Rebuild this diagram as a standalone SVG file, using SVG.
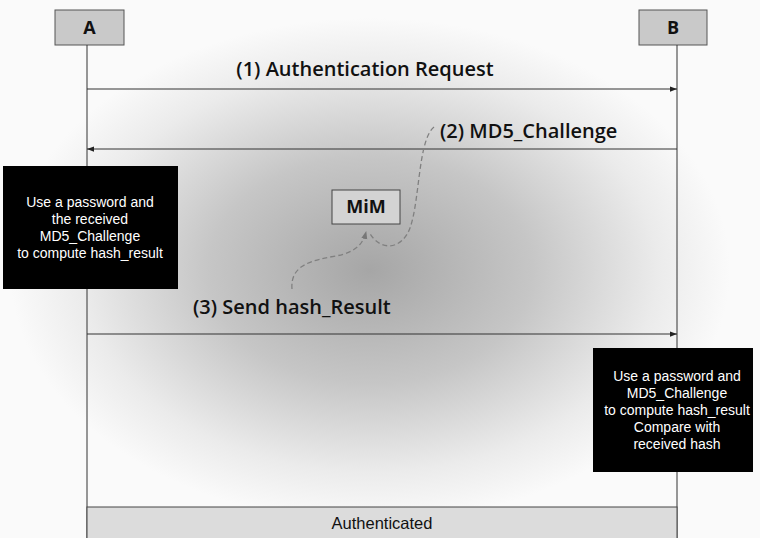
<svg xmlns="http://www.w3.org/2000/svg" width="760" height="538" viewBox="0 0 760 538">
<defs>
<radialGradient id="bg" cx="370" cy="270" r="360" gradientUnits="userSpaceOnUse" gradientTransform="translate(370 270) scale(1 0.7) translate(-370 -270)">
<stop offset="0" stop-color="#a6a6a6"/>
<stop offset="0.45" stop-color="#c6c6c6"/>
<stop offset="0.8" stop-color="#ebebeb"/>
<stop offset="1" stop-color="#fafafa"/>
</radialGradient>
<marker id="ah" viewBox="0 0 8 8" refX="8" refY="4" markerWidth="7" markerHeight="7" orient="auto" markerUnits="userSpaceOnUse">
<path d="M0,1 L8,4 L0,7 Z" fill="#222"/>
</marker>
<marker id="dh" viewBox="0 0 8 8" refX="7" refY="4" markerWidth="8" markerHeight="8" orient="auto" markerUnits="userSpaceOnUse">
<path d="M0,1 L8,4 L0,7 Z" fill="#777"/>
</marker>
</defs>
<style>
.actor{fill:#c9c9c9;stroke:#555;stroke-width:1}
.atxt{font-family:"Open Sans","DejaVu Sans",sans-serif;font-weight:bold;font-size:18px;fill:#111;text-anchor:middle}
.life{stroke:#333;stroke-width:1}
.msg{stroke:#333;stroke-width:1;fill:none;marker-end:url(#ah)}
.lbl{font-family:"Open Sans","DejaVu Sans",sans-serif;font-weight:600;font-size:20px;fill:#111}
.note{fill:#000}
.ntxt{font-family:"Liberation Sans",Arial,sans-serif;font-size:14px;fill:#fff;text-anchor:middle}
.dash{stroke:#808080;stroke-width:1.3;stroke-dasharray:5 3;fill:none}
</style>
<rect width="760" height="538" fill="url(#bg)"/>
<g id="A"><rect class="actor" x="55" y="10" width="69" height="35"/><text class="atxt" x="89.5" y="34">A</text></g>
<g id="B"><rect class="actor" x="639" y="10" width="68" height="35"/><text class="atxt" x="673" y="34">B</text></g>
<g id="lifelines"><line class="life" x1="87" y1="45" x2="87" y2="538"/><line class="life" x1="677" y1="45" x2="677" y2="538"/></g>
<g id="connectors">
<line class="msg" x1="87" y1="89" x2="677" y2="89"/>
<line class="msg" x1="677" y1="149" x2="87" y2="149"/>
<line class="msg" x1="87" y1="334" x2="677" y2="334"/>
<path class="dash" d="M434 127 C418 140 420 200 410 228 C402 250 380 252 369 232"/>
<path class="dash" d="M292 289 C290 265 312 260 336 256 C356 252 363 244 366 232" marker-end="url(#dh)"/>
</g>
<g id="labels">
<text class="lbl" x="365" y="76" text-anchor="middle">(1) Authentication Request</text>
<text class="lbl" x="440" y="138">(2) MD5_Challenge</text>
<text class="lbl" x="193" y="314">(3) Send hash_Result</text>
</g>
<g id="MiM"><rect x="332" y="190" width="68" height="34" fill="#d3d3d3" stroke="#444" stroke-width="1"/><text class="atxt" x="366" y="213" font-size="17">MiM</text></g>
<g id="noteA"><rect class="note" x="3" y="166" width="175" height="123"/>
<text class="ntxt"><tspan x="90" y="207">Use a password and</tspan><tspan x="90" y="224">the received</tspan><tspan x="90" y="241">MD5_Challenge</tspan><tspan x="90" y="258">to compute hash_result</tspan></text></g>
<g id="noteB"><rect class="note" x="593" y="348" width="160" height="124"/>
<text class="ntxt"><tspan x="677" y="381">Use a password and</tspan><tspan x="677" y="398">MD5_Challenge</tspan><tspan x="677" y="415">to compute hash_result</tspan><tspan x="677" y="432">Compare with</tspan><tspan x="677" y="449">received hash</tspan></text></g>
<g id="authenticated"><rect x="87" y="507" width="590" height="40" fill="#dcdcdc" stroke="#444" stroke-width="1"/>
<text x="382" y="529" font-family="Liberation Sans,Arial,sans-serif" font-size="16.5px" fill="#111" text-anchor="middle">Authenticated</text></g>
</svg>
